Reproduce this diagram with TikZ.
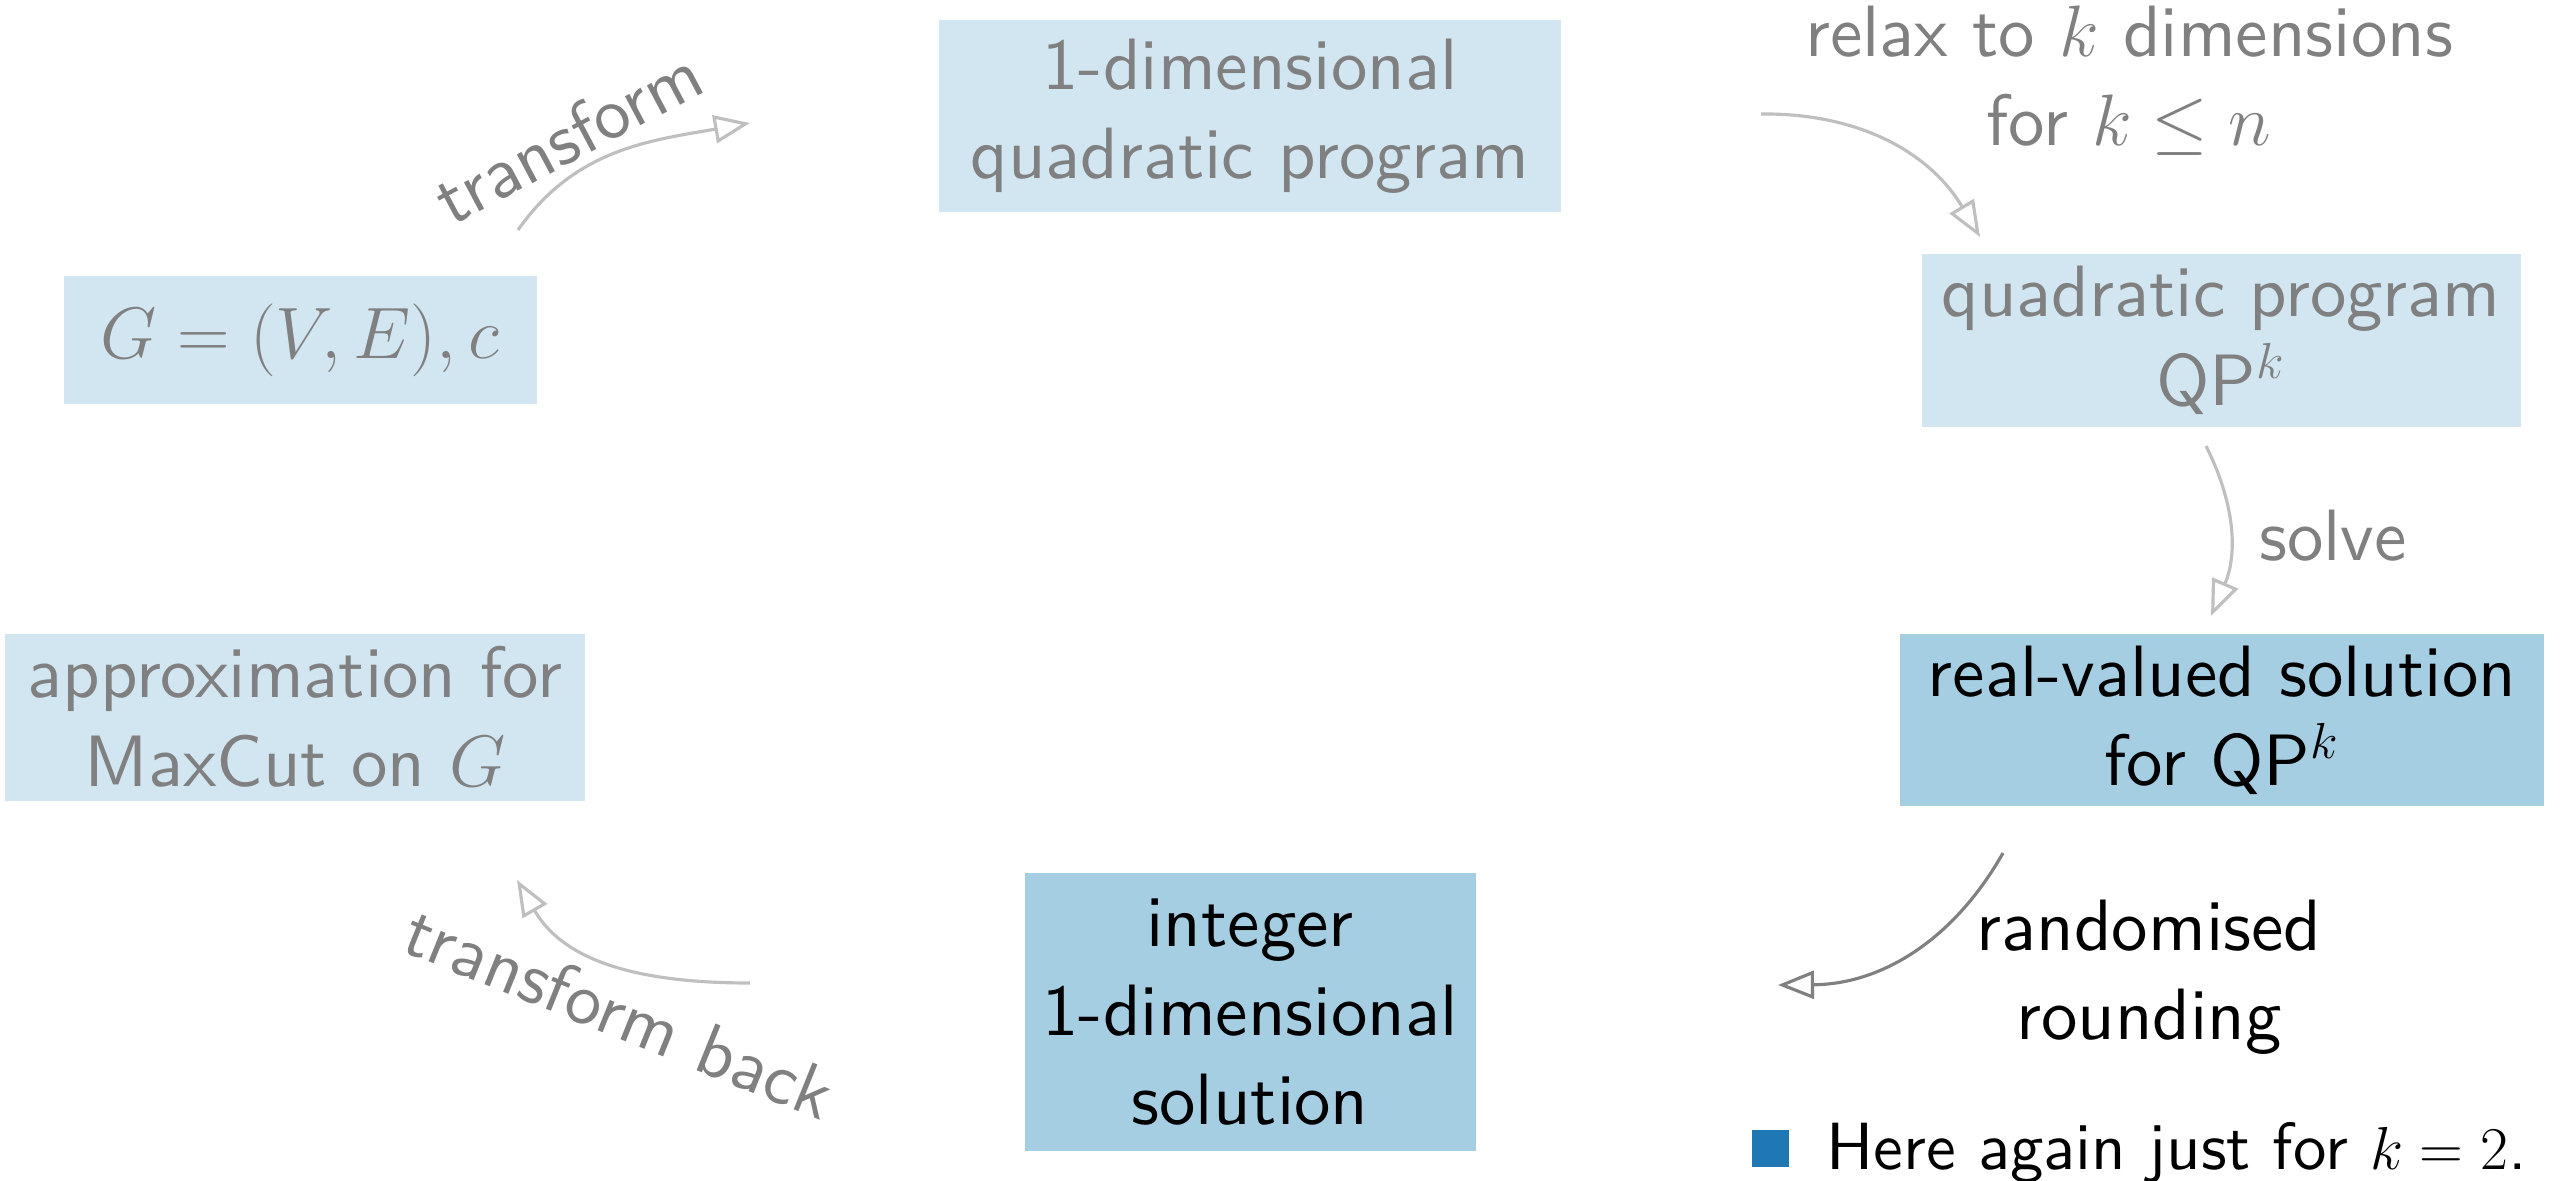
\documentclass[tikz,border=0pt]{standalone}
\usepackage{amsmath}
\usepackage{fontspec}
\setsansfont{lmsans10-regular.otf}
\usetikzlibrary{arrows.meta}
\definecolor{paleblue}{HTML}{D2E6F1}
\definecolor{boxblue}{HTML}{A6CEE3}
\definecolor{dotblue}{HTML}{1F78B4}
\newcommand{\slidefont}{\sffamily\fontsize{20.7}{25.4}\selectfont}
\newcommand{\notefont}{\sffamily\fontsize{19}{23}\selectfont}
\tikzset{faint/.style = {shape=rectangle,fill=paleblue,text=black!50,align=center,inner sep=0pt}}
\tikzset{live/.style = {shape=rectangle,fill=boxblue,text=black,align=center,inner sep=0pt}}
\tikzset{edge/.style = {-{Triangle[open,length=0.36cm,width=0.28cm]},line width=0.9pt,draw=black!25}}
\tikzset{edgeon/.style = {edge,draw=black!50}}
\tikzset{lbl/.style = {text=black!50,align=center}}

\begin{document}
\begin{tikzpicture}[font=\slidefont]
        \useasboundingbox (0,0) rectangle (25.62,-11.80);
        \node[faint,minimum width=6.22cm,minimum height=1.92cm] (qpone) at (12.50,-1.16) {1-dimensional\\quadratic program};
        \node[faint,minimum width=4.73cm,minimum height=1.28cm] (graph) at (3.00,-3.40) {$G=(V,E),c$};
        \node[faint,minimum width=5.99cm,minimum height=1.73cm] (qpk) at (22.21,-3.40) {quadratic program\\QP$^k$};
        \node[live,minimum width=6.44cm,minimum height=1.72cm] (real) at (22.22,-7.20) {real-valued solution\\for QP$^k$};
        \node[live,minimum width=4.51cm,minimum height=2.78cm] (integer) at (12.50,-10.12) {integer\\1-dimensional\\solution};
        \node[faint,minimum width=5.80cm,minimum height=1.67cm] (approx) at (2.95,-7.17) {approximation for\\MaxCut on $G$};
        % loose arrow ends
        \coordinate (tfa) at (5.18,-2.30);
        \coordinate (tfb) at (7.50,-1.23);
        \coordinate (rla) at (17.61,-1.14);
        \coordinate (rlb) at (19.80,-2.37);
        \coordinate (sva) at (22.06,-4.46);
        \coordinate (svb) at (22.11,-6.16);
        \coordinate (rda) at (20.03,-8.53);
        \coordinate (rdb) at (17.78,-9.85);
        \coordinate (bka) at (7.50,-9.83);
        \coordinate (bkb) at (5.17,-8.80);
        \draw[edge] (tfa) to[out=55,in=190] (tfb);
        \node[lbl,rotate=28] (tflabel) at (5.68,-1.36) {transform};
        \draw[edge] (rla) to[bend left=30] (rlb);
        \node[lbl] (rllabel) at (21.29,-0.81) {relax to $k$ dimensions\\for $k\le n$};
        \draw[edge] (sva) to[bend left=25] (svb);
        \node[lbl] (svlabel) at (23.33,-5.36) {solve};
        \draw[edgeon] (rda) to[bend left=30] (rdb);
        \node[align=center] (rdlabel) at (21.49,-9.77) {randomised\\rounding};
        \draw[edge] (bka) to[out=180,in=300] (bkb);
        \node[lbl,rotate=-22] (bklabel) at (6.20,-10.12) {transform back};
        % bullet line
        \node[fill=dotblue,minimum size=0.37cm,inner sep=0pt] (dot) at (17.70,-11.48) {};
        \node[anchor=base west,inner sep=0pt,font=\notefont] (note) at (18.26,-11.69) {Here again just for $k=2$.};
    \end{tikzpicture}
\end{document}
